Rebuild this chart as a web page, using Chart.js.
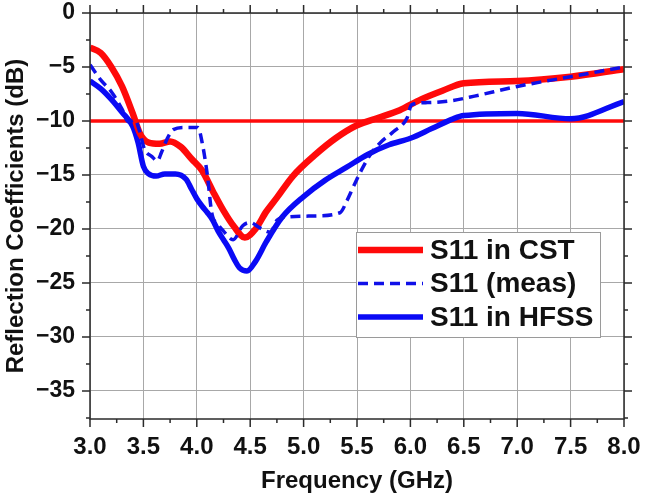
<!DOCTYPE html>
<html>
<head>
<meta charset="utf-8">
<script src="https://cdn.jsdelivr.net/npm/chart.js@4.4.1/dist/chart.umd.min.js"></script>
<style>
  body { margin: 0; background: #fff; }
  canvas { display: block; }
</style>
</head>
<body>
<canvas id="chart" width="645" height="504"></canvas>
<script>
// axis ticks
const xTicks = [3.0, 3.5, 4.0, 4.5, 5.0, 5.5, 6.0, 6.5, 7.0, 7.5, 8.0];
const yTicks = [0, -5, -10, -15, -20, -25, -30, -35];
const threshold = -10;

// S11 in CST
const freqCst = [3.0, 3.1, 3.2, 3.3, 3.4, 3.47, 3.55, 3.65, 3.75, 3.85, 3.95, 4.05, 4.15, 4.25, 4.35, 4.45, 4.55, 4.65, 4.75, 4.9, 5.1, 5.3, 5.5, 5.7, 5.9, 6.1, 6.3, 6.5, 7.0, 7.5, 8.0];
const s11Cst = [-3.2, -3.7, -5.0, -6.8, -9.3, -11.2, -12.0, -12.1, -11.9, -12.4, -13.5, -14.6, -16.5, -18.3, -19.8, -20.8, -20.0, -18.4, -17.1, -15.1, -13.2, -11.6, -10.4, -9.7, -9.0, -8.0, -7.2, -6.5, -6.3, -5.9, -5.2];

// S11 (meas)
const freqMeas = [3.0, 3.05, 3.1, 3.2, 3.3, 3.36, 3.42, 3.46, 3.51, 3.58, 3.63, 3.67, 3.72, 3.78, 3.89, 4.01, 4.05, 4.1, 4.14, 4.2, 4.25, 4.34, 4.43, 4.5, 4.59, 4.69, 4.75, 4.84, 5.1, 5.34, 5.41, 5.47, 5.56, 5.64, 5.73, 5.84, 5.97, 6.01, 6.16, 6.4, 6.6, 7.0, 7.5, 8.0];
const s11Meas = [-4.8, -5.5, -6.2, -7.3, -8.9, -10.1, -9.9, -10.8, -12.6, -13.3, -13.7, -12.9, -11.7, -10.8, -10.6, -10.6, -12.0, -15.1, -18.5, -19.6, -20.2, -21.0, -19.7, -19.4, -19.9, -20.3, -19.2, -18.9, -18.8, -18.5, -17.3, -16.0, -14.2, -12.9, -11.9, -11.0, -9.7, -8.5, -8.3, -8.1, -7.7, -6.8, -5.9, -5.0];

// S11 in HFSS
const freqHfss = [3.0, 3.1, 3.2, 3.3, 3.4, 3.45, 3.5, 3.55, 3.62, 3.7, 3.8, 3.9, 3.95, 4.0, 4.05, 4.1, 4.15, 4.2, 4.25, 4.3, 4.35, 4.4, 4.47, 4.55, 4.65, 4.8, 5.0, 5.2, 5.4, 5.6, 5.8, 6.0, 6.2, 6.4, 6.5, 7.0, 7.5, 8.0];
const s11Hfss = [-6.3, -7.0, -8.0, -9.2, -10.5, -12.0, -14.2, -14.9, -15.1, -14.9, -14.9, -15.4, -16.3, -17.2, -17.9, -18.5, -19.2, -20.2, -21.0, -21.8, -22.8, -23.6, -23.9, -23.0, -21.2, -18.9, -17.0, -15.5, -14.3, -13.1, -12.2, -11.6, -10.7, -9.8, -9.5, -9.3, -9.8, -8.2];

const font = '"Liberation Sans", Arial, sans-serif';
const pts = (xs, ys) => xs.map((x, i) => ({ x: x, y: ys[i] }));

// frame, ticks (major + minor on all four sides) and the inner legend
const framePlugin = {
  id: 'frame',
  afterDatasetsDraw(chart) {
    const ctx = chart.ctx;
    const a = chart.chartArea;
    const xs = chart.scales.x, ys = chart.scales.y;
    ctx.save();
    ctx.strokeStyle = '#2a2a2a';
    ctx.lineWidth = 1.5;
    ctx.strokeRect(a.left, a.top, a.right - a.left, a.bottom - a.top);
    ctx.beginPath();
    for (let v = 3; v <= 8.001; v += 0.25) {
      const px = xs.getPixelForValue(v);
      const len = Math.abs(v * 2 - Math.round(v * 2)) < 0.01 ? 8 : 4;
      ctx.moveTo(px, a.bottom); ctx.lineTo(px, a.bottom + len);
      ctx.moveTo(px, a.top); ctx.lineTo(px, a.top - len);
    }
    for (let v = 0; v >= -37.5; v -= 2.5) {
      const py = ys.getPixelForValue(v);
      const len = Math.abs(v / 5 - Math.round(v / 5)) < 0.01 ? 8 : 4;
      ctx.moveTo(a.left, py); ctx.lineTo(a.left - len, py);
      ctx.moveTo(a.right, py); ctx.lineTo(a.right + len, py);
    }
    ctx.stroke();
    ctx.restore();
  },
  afterDraw(chart) {
    const ctx = chart.ctx;
    const a = chart.chartArea;
    const items = chart.data.datasets.filter(d => d.label);
    const bx = a.left + 266, by = a.top + 219, bw = 244, bh = 105;
    ctx.save();
    ctx.fillStyle = '#fff';
    ctx.fillRect(bx, by, bw, bh);
    ctx.strokeStyle = '#9a9a9a';
    ctx.lineWidth = 1;
    ctx.strokeRect(bx + 0.5, by + 0.5, bw, bh);
    ctx.font = 'bold 28px ' + font;
    ctx.textBaseline = 'middle';
    items.forEach((d, i) => {
      const y = by + 18 + i * 33.5;
      ctx.beginPath();
      ctx.strokeStyle = d.borderColor;
      ctx.lineWidth = d.borderWidth;
      ctx.setLineDash(d.borderDash || []);
      ctx.moveTo(bx + 2, y);
      ctx.lineTo(bx + 67, y);
      ctx.stroke();
      ctx.setLineDash([]);
      ctx.fillStyle = '#111';
      ctx.fillText(d.label, bx + 74, y + 1);
    });
    ctx.restore();
  }
};

new Chart(document.getElementById('chart'), {
  type: 'line',
  data: {
    datasets: [
      { label: 'S11 in CST', data: pts(freqCst, s11Cst), borderColor: '#ff0a0a', borderWidth: 6.5, cubicInterpolationMode: 'monotone', order: 1 },
      { label: 'S11 (meas)', data: pts(freqMeas, s11Meas), borderColor: '#1010e8', borderWidth: 3.5, borderDash: [10, 6], cubicInterpolationMode: 'monotone', order: 0 },
      { label: 'S11 in HFSS', data: pts(freqHfss, s11Hfss), borderColor: '#0a0af5', borderWidth: 5.5, cubicInterpolationMode: 'monotone', order: 2 },
      { data: [{ x: xTicks[0], y: threshold }, { x: xTicks[xTicks.length - 1], y: threshold }], borderColor: '#ff0a0a', borderWidth: 3.5, order: 3 }
    ]
  },
  options: {
    responsive: false,
    animation: false,
    layout: { padding: { top: 13, right: 21, left: 0, bottom: 0 } },
    elements: { point: { radius: 0 }, line: { borderCapStyle: 'butt' } },
    plugins: { legend: { display: false }, tooltip: { enabled: false } },
    scales: {
      x: {
        type: 'linear',
        min: 3, max: 8,
        afterBuildTicks: s => { s.ticks = xTicks.map(v => ({ value: v })); },
        afterFit: s => { s.height = 85; s.paddingLeft = 0; s.paddingRight = 0; },
        grid: { color: '#a8a8a8', lineWidth: 1, drawTicks: false },
        border: { display: false },
        ticks: { padding: 14, color: '#111', font: { family: font, size: 24, weight: 'bold' }, callback: v => v.toFixed(1), maxRotation: 0 },
        title: { display: true, text: 'Frequency (GHz)', color: '#111', padding: { top: 8, bottom: 8 }, font: { family: font, size: 24, weight: 'bold' } }
      },
      y: {
        min: -37.6, max: 0,
        afterBuildTicks: s => { s.ticks = yTicks.map(v => ({ value: v })); },
        afterFit: s => { s.width = 90; s.paddingTop = 0; s.paddingBottom = 0; },
        grid: { color: '#a8a8a8', lineWidth: 1, drawTicks: false },
        border: { display: false },
        ticks: { padding: 15, color: '#111', font: { family: font, size: 23, weight: 'bold' }, callback: v => v === 0 ? '0' : '\u2212' + Math.abs(v) },
        title: { display: true, text: 'Reflection Coefficients (dB)', color: '#111', padding: { top: 2, bottom: 2 }, font: { family: font, size: 24, weight: 'bold' } }
      }
    }
  },
  plugins: [framePlugin]
});
</script>
</body>
</html>
